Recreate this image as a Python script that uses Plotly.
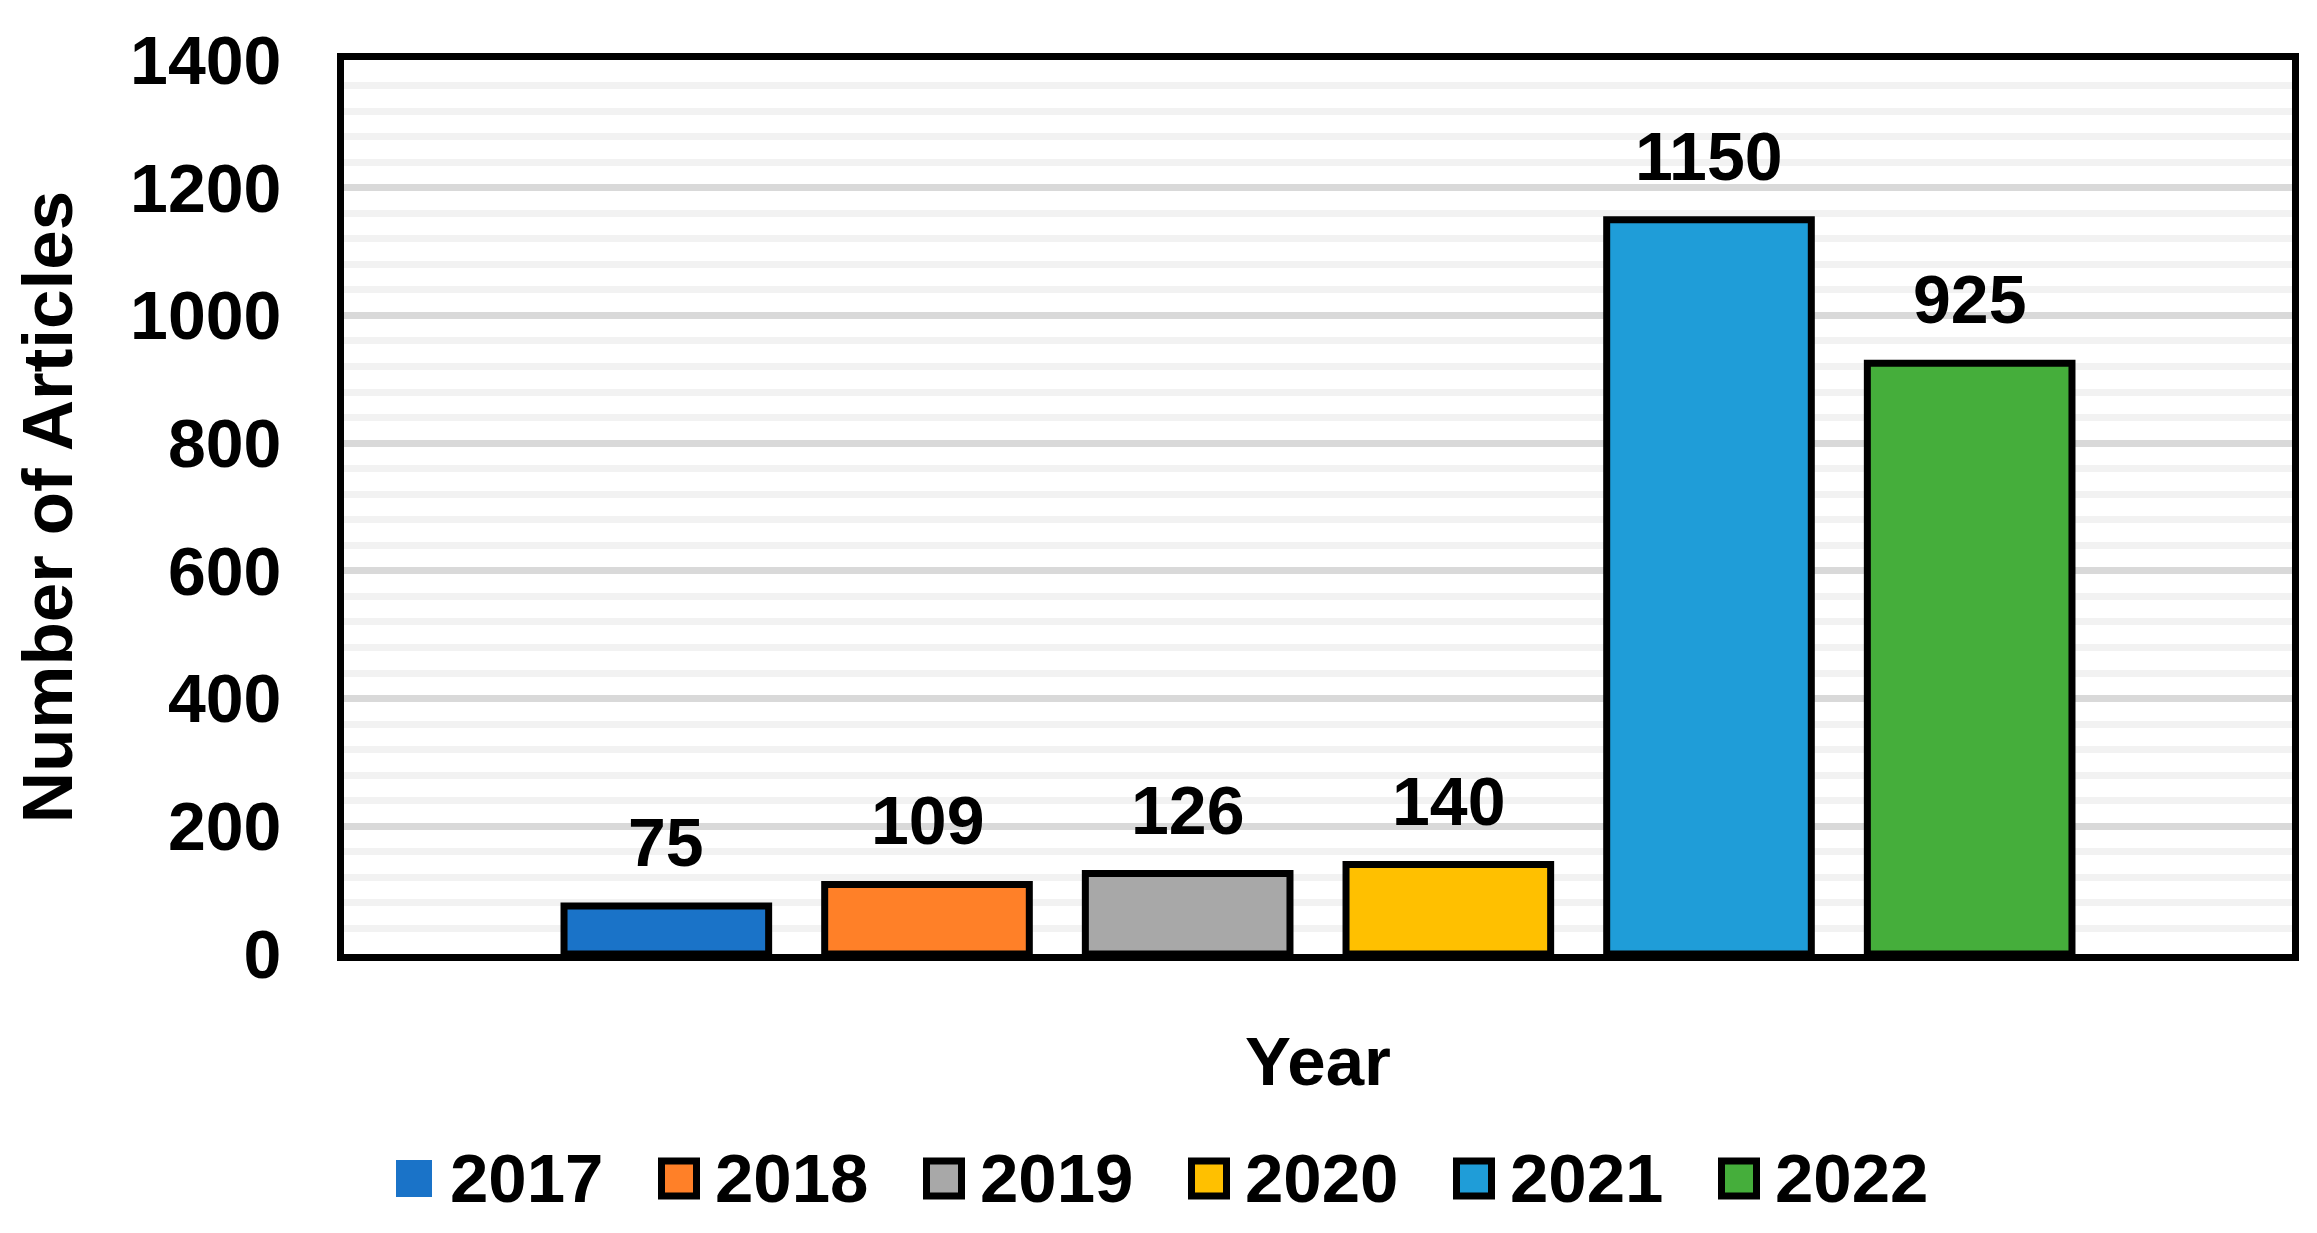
import plotly.graph_objects as go

years = ["2017", "2018", "2019", "2020", "2021", "2022"]
articles = [75, 109, 126, 140, 1150, 925]
colors = ["#1A73C8", "#FF8028", "#A8A8A8", "#FFC000", "#1F9DD8", "#45AE3B"]
y_ticks = [0, 200, 400, 600, 800, 1000, 1200, 1400]

FONT = "Liberation Sans, Arial, sans-serif"
FS = 68
# the page body adds an 8px offset, so the figure is drawn a bit smaller
W, H = 2309, 1225
ML, MR, MT, MB = 336, 25, 52, 279
PW, PH = W - ML - MR, H - MT - MB
LW = 7
# widen the x range by half a frame line so the frame sits where the original's does
x_pad = (LW / 2) * 7.5 / (PW + LW)

fig = go.Figure()
for i, (yr, val, col) in enumerate(zip(years, articles, colors)):
    fig.add_trace(go.Bar(
        x=[i], y=[val], name=yr, width=0.785,
        marker=dict(color=col, line=dict(color="black", width=LW)),
        showlegend=False,
    ))

for i, val in enumerate(articles):
    fig.add_annotation(
        x=i, y=val, text=str(val), showarrow=False,
        yanchor="bottom", yshift=24,
        font=dict(family=FONT, size=FS, color="black", weight="bold"),
    )

# Legend (large square swatches like the original, 2017 without outline)
LEG_Y = (MT + PH - (1178.5 - 8)) / PH  # paper y of legend row centre
for i, (yr, col) in enumerate(zip(years, colors)):
    cx = (414 - 8 + 265 * i - ML) / PW
    if i == 0:
        fig.add_shape(type="rect", xref="paper", yref="paper",
                      xsizemode="pixel", ysizemode="pixel",
                      xanchor=cx, yanchor=LEG_Y, x0=-18, x1=18, y0=-18.5, y1=18.5,
                      fillcolor=col, line=dict(width=0), layer="above")
    else:
        fig.add_shape(type="rect", xref="paper", yref="paper",
                      xsizemode="pixel", ysizemode="pixel",
                      xanchor=cx, yanchor=LEG_Y, x0=-17.5, x1=17.5, y0=-17.5, y1=17.5,
                      fillcolor=col, line=dict(color="black", width=7), layer="above")
    fig.add_annotation(
        xref="paper", yref="paper", x=cx, y=LEG_Y, xshift=34,
        xanchor="left", yanchor="middle", text=yr, showarrow=False,
        font=dict(family=FONT, size=FS + 1, color="black", weight="bold"),
    )

fig.update_layout(
    width=W, height=H,
    margin=dict(l=ML, r=MR, t=MT, b=MB),
    paper_bgcolor="white", plot_bgcolor="white",
    font=dict(family=FONT, size=FS, color="black", weight="bold"),
    barmode="overlay",
    showlegend=False,
    xaxis=dict(
        range=[-1.25 + x_pad, 6.25 - x_pad], showticklabels=False, showgrid=False,
        zeroline=False, showline=True, linecolor="black", linewidth=LW,
        mirror=True, ticks="", automargin=False,
        title=dict(text="Year", standoff=79,
                   font=dict(family=FONT, size=69, color="black", weight="bold")),
    ),
    yaxis=dict(
        range=[0, 1400], tickvals=y_ticks,
        ticktext=[str(v) for v in y_ticks],
        showgrid=True, gridcolor="#D9D9D9", gridwidth=7,
        minor=dict(dtick=40, showgrid=True, gridcolor="#F2F2F2", gridwidth=7),
        zeroline=False, showline=True, linecolor="black", linewidth=LW,
        mirror=True, ticks="", ticklabelstandoff=42, automargin=False,
        tickfont=dict(family=FONT, size=FS, color="black", weight="bold"),
        title=dict(text="Number of Articles", standoff=58,
                   font=dict(family=FONT, size=71, color="black", weight="bold")),
    ),
)

fig.write_html("out.html")
